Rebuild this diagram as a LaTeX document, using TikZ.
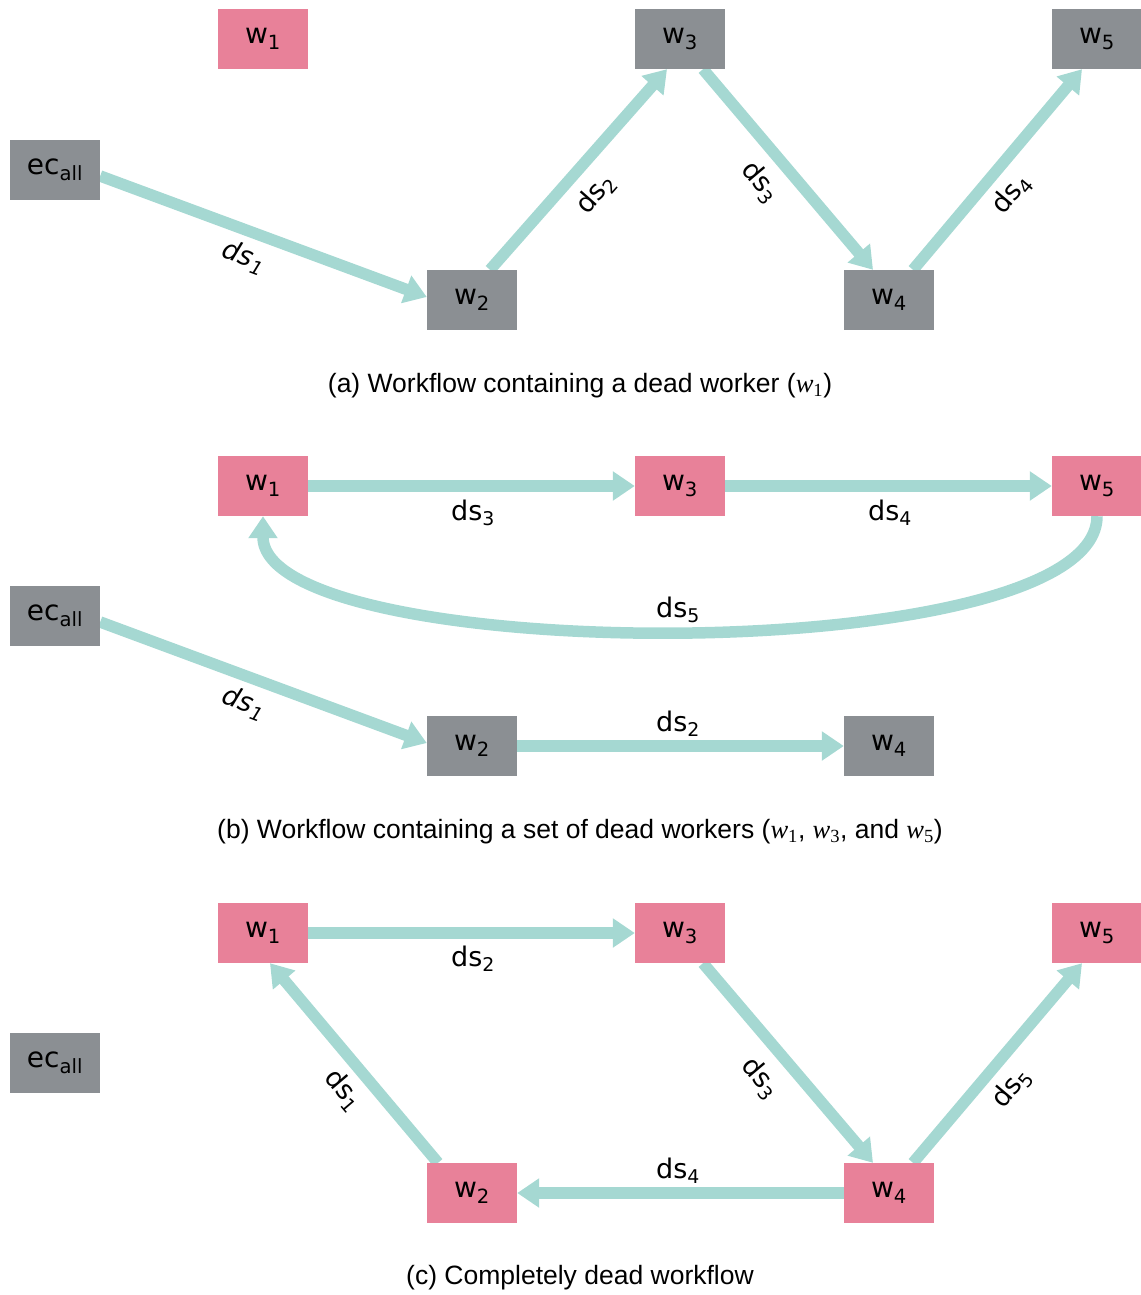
\documentclass[tikz,border=0pt]{standalone}
\usepackage{fontspec}
\setmainfont{Liberation Sans}
\newfontfamily\dejavu{DejaVu Sans}
\newfontfamily\tmsfont{Liberation Serif}
\usetikzlibrary{arrows.meta,backgrounds}
\definecolor{deadpink}{RGB}{232,129,153}
\definecolor{livegray}{RGB}{139,143,147}
\definecolor{flowteal}{RGB}{165,216,210}
% worker symbol in captions: serif italic w with an upright index
\newcommand{\wk}[1]{{\tmsfont\itshape w}\textsubscript{\tmsfont #1}}

\begin{document}
\begin{tikzpicture}[x=1pt,y=-1pt,
  wbox/.style={rectangle, minimum width=90pt, minimum height=60pt, inner sep=0pt,
    font=\dejavu\fontsize{28}{32}\selectfont},
  alive/.style={wbox, fill=livegray},
  dead/.style={wbox, fill=deadpink},
  flowedge/.style={draw=flowteal, line width=11.5pt, -{Triangle[length=22pt,width=28pt]}},
  dslabel/.style={font=\dejavu\fontsize{27}{31}\selectfont, inner sep=0pt},
  capt/.style={font=\fontsize{26.5}{30}\selectfont, inner sep=0pt}]
\useasboundingbox (0,0) rectangle (1140,1295);

% ---------- (a) one dead worker ----------
\node[dead]  (a1) at (263,39)  {w\textsubscript{1}};
\node[alive] (a3) at (680,39)  {w\textsubscript{3}};
\node[alive] (a5) at (1097,39) {w\textsubscript{5}};
\node[alive] (aec) at (55,170) {ec\textsubscript{all}};
\node[alive] (a2) at (472,300) {w\textsubscript{2}};
\node[alive] (a4) at (889,300) {w\textsubscript{4}};

\begin{scope}[on background layer]
\draw[flowedge] ([yshift=-6pt]aec.east) -- ([yshift=3pt]a2.west);
\draw[flowedge] ([xshift=18pt]a2.north) -- ([xshift=-13pt]a3.south);
\draw[flowedge] ([xshift=23pt]a3.south) -- ([xshift=-16pt]a4.north);
\draw[flowedge] ([xshift=24pt]a4.north) -- ([xshift=-15pt]a5.south);
\end{scope}

\node[dslabel, rotate=-20.3] (la1) at (244,257) {\itshape ds\textsubscript{1}};
\node[dslabel, rotate=48.6]  (la2) at (596,194) {ds\textsubscript{2}};
\node[dslabel, rotate=-49.8] (la3) at (760,182) {ds\textsubscript{3}};
\node[dslabel, rotate=50]    (la4) at (1012,194) {ds\textsubscript{4}};

\node[capt] (capa) at (580,386) {(a) Workflow containing a dead worker (\wk{1})};

% ---------- (b) a set of dead workers ----------
\node[dead]  (b1) at (263,486)  {w\textsubscript{1}};
\node[dead]  (b3) at (680,486)  {w\textsubscript{3}};
\node[dead]  (b5) at (1097,486) {w\textsubscript{5}};
\node[alive] (bec) at (55,616)  {ec\textsubscript{all}};
\node[alive] (b2) at (472,746)  {w\textsubscript{2}};
\node[alive] (b4) at (889,746)  {w\textsubscript{4}};

\begin{scope}[on background layer]
\draw[flowedge] (b1.east) -- (b3.west);
\draw[flowedge] (b3.east) -- (b5.west);
\draw[flowedge] (b5.south) .. controls +(0,155) and +(0,150) .. (b1.south);
\draw[flowedge] ([yshift=-6pt]bec.east) -- ([yshift=3pt]b2.west);
\draw[flowedge] (b2.east) -- (b4.west);
\end{scope}

\node[dslabel] (lb3) at (473,513) {ds\textsubscript{3}};
\node[dslabel] (lb4) at (890,513) {ds\textsubscript{4}};
\node[dslabel] (lb5) at (678,610) {ds\textsubscript{5}};
\node[dslabel, rotate=-20.3] (lb1) at (244,703) {\itshape ds\textsubscript{1}};
\node[dslabel] (lb2) at (678,724) {ds\textsubscript{2}};

\node[capt] (capb) at (580,832) {(b) Workflow containing a set of dead workers (\wk{1}, \wk{3}, and \wk{5})};

% ---------- (c) completely dead workflow ----------
\node[dead]  (c1) at (263,933)  {w\textsubscript{1}};
\node[dead]  (c3) at (680,933)  {w\textsubscript{3}};
\node[dead]  (c5) at (1097,933) {w\textsubscript{5}};
\node[alive] (cec) at (55,1063) {ec\textsubscript{all}};
\node[dead]  (c2) at (472,1193) {w\textsubscript{2}};
\node[dead]  (c4) at (889,1193) {w\textsubscript{4}};

\begin{scope}[on background layer]
\draw[flowedge] (c1.east) -- (c3.west);
\draw[flowedge] ([xshift=-34pt]c2.north) -- ([xshift=7pt]c1.south);
\draw[flowedge] ([xshift=23pt]c3.south) -- ([xshift=-16pt]c4.north);
\draw[flowedge] ([xshift=24pt]c4.north) -- ([xshift=-15pt]c5.south);
\draw[flowedge] (c4.west) -- (c2.east);
\end{scope}

\node[dslabel] (lc2) at (473,959) {ds\textsubscript{2}};
\node[dslabel, rotate=-49.6] (lc1) at (343,1090) {ds\textsubscript{1}};
\node[dslabel, rotate=-49.8] (lc3) at (760,1078) {ds\textsubscript{3}};
\node[dslabel, rotate=50]    (lc5) at (1012,1088) {ds\textsubscript{5}};
\node[dslabel] (lc4) at (678,1171) {ds\textsubscript{4}};

\node[capt] (capc) at (580,1278) {(c) Completely dead workflow};
\end{tikzpicture}
\end{document}
